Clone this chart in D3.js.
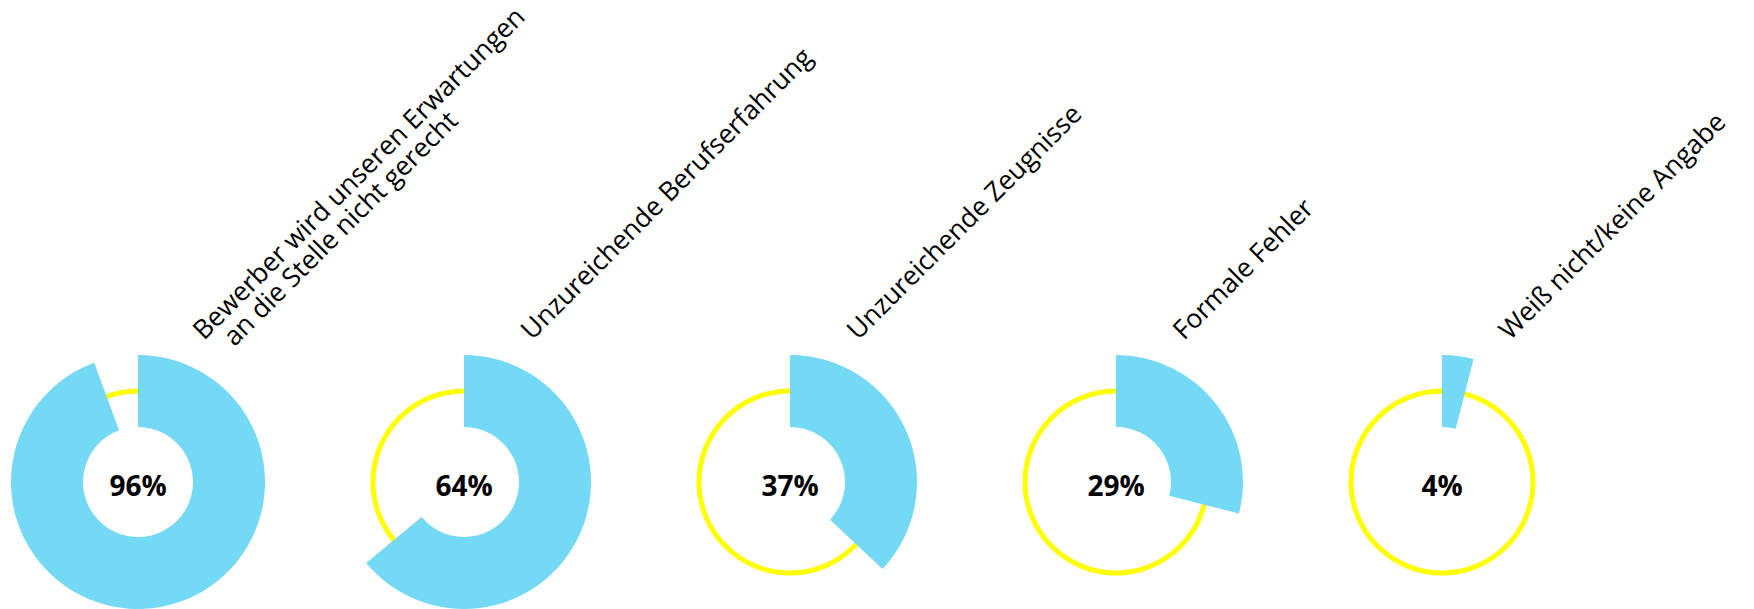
<!DOCTYPE html>
<html>
<head>
<meta charset="utf-8">
<script src="https://cdn.jsdelivr.net/npm/d3@7"></script>
<style>
  html, body { margin: 0; padding: 0; background: #ffffff; }
  svg { display: block; }
  text { font-family: "Open Sans", sans-serif; }
</style>
</head>
<body>
<svg id="chart" width="1754" height="609"></svg>
<script>
// ---- data ----
const categories = [
  ["Bewerber wird unseren Erwartungen", "an die Stelle nicht gerecht"],
  ["Unzureichende Berufserfahrung"],
  ["Unzureichende Zeugnisse"],
  ["Formale Fehler"],
  ["Weiß nicht/keine Angabe"]
];
// arc extents as read from the drawn arcs (percent of full circle)
const values = [94.4, 64, 37, 29, 4];
const valueLabels = ["96%", "64%", "37%", "29%", "4%"];

// ---- layout ----
const cy = 482;
const innerR = 55, outerR = 127, ringR = 91;
const blue = "#73d9f4", yellow = "#ffff00";

const svg = d3.select("#chart");

const x = d3.scalePoint()
  .domain(d3.range(categories.length))
  .range([138, 1442]);

const angle = d3.scaleLinear().domain([0, 100]).range([0, 2 * Math.PI]);

const arc = d3.arc().innerRadius(innerR).outerRadius(outerR);

const g = svg.selectAll("g.donut")
  .data(values.map((v, i) => ({ v, i, lines: categories[i], label: valueLabels[i] })))
  .join("g")
  .attr("class", "donut")
  .attr("transform", d => `translate(${x(d.i)},${cy})`);

// yellow background ring
g.append("circle")
  .attr("r", ringR)
  .attr("fill", "none")
  .attr("stroke", yellow)
  .attr("stroke-width", 5);

// blue value arc
g.append("path")
  .attr("fill", blue)
  .attr("d", d => arc({ startAngle: 0, endAngle: angle(d.v) }));

// percentage label
g.append("text")
  .attr("text-anchor", "middle")
  .attr("y", 14)
  .attr("font-size", 28)
  .attr("font-weight", 700)
  .attr("fill", "#000")
  .text(d => d.label);

// rotated category labels
const lab = g.append("text")
  .attr("transform", d => `translate(${d.lines.length > 1 ? 66 : 68},${341 - cy}) rotate(-45)`)
  .attr("font-size", 26.5)
  .attr("fill", "#000");

lab.selectAll("tspan")
  .data(d => d.lines.map((t, j) => ({ t, j })))
  .join("tspan")
  .attr("x", d => d.j * 17)
  .attr("y", d => d.j * 26)
  .text(d => d.t);
</script>
</body>
</html>
